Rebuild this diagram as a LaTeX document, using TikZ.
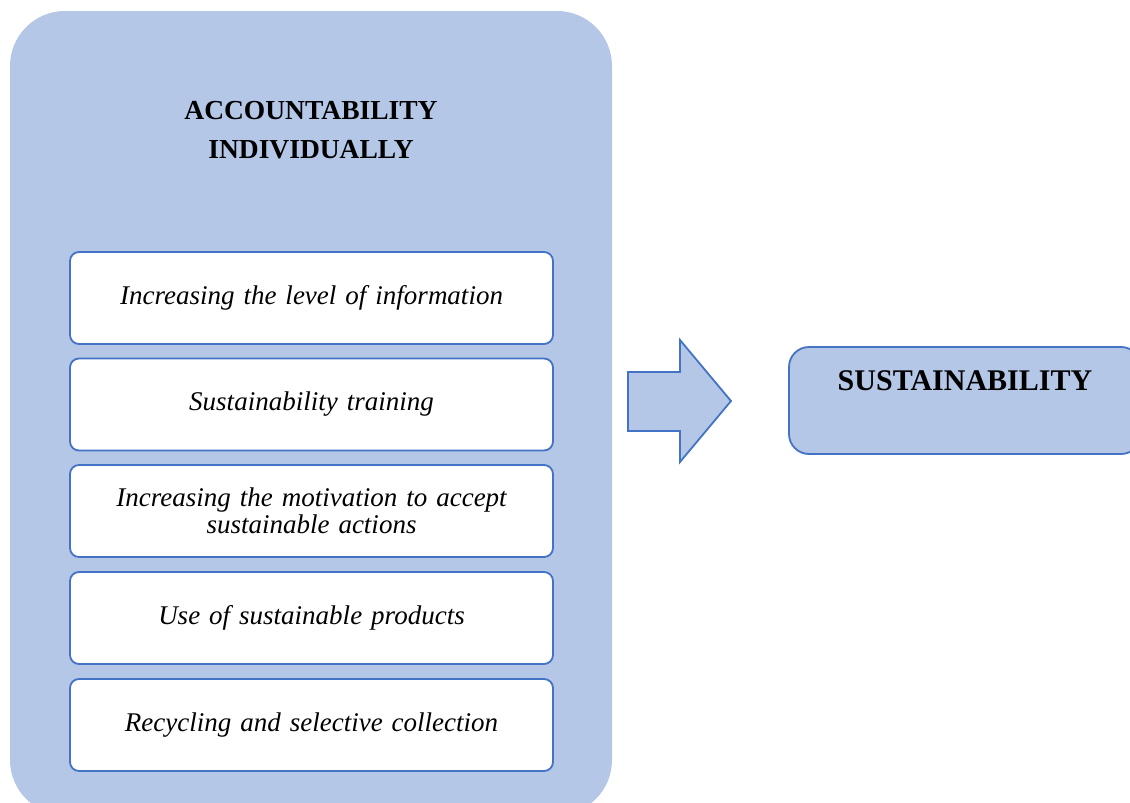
\documentclass[tikz,border=0pt]{standalone}
\usepackage{fontspec}
\setmainfont{Liberation Serif}
\definecolor{fillblue}{HTML}{B4C7E7}
\definecolor{lineblue}{HTML}{4472C4}
\begin{document}
\begin{tikzpicture}[x=1pt,y=-1pt,
  outerbox/.style={fill=fillblue, draw=none, rounded corners=55pt, minimum width=602pt, minimum height=804pt, inner sep=0pt},
  itembox/.style={fill=white, draw=lineblue, line width=1.8pt, rounded corners=9pt, minimum width=483pt, minimum height=92pt, text width=478pt, align=center, inner sep=0pt, font=\fontsize{27}{27}\selectfont\itshape},
  titletext/.style={align=center, font=\fontsize{27.5}{39}\selectfont\bfseries},
  arrowshape/.style={fill=fillblue, draw=lineblue, line width=1.8pt, line join=miter},
  susbox/.style={fill=fillblue, draw=lineblue, line width=1.8pt, rounded corners=20pt, minimum width=352pt, minimum height=107pt, inner sep=0pt, text height=20pt, text depth=41pt, font=\fontsize{30}{34}\selectfont\bfseries}
]
\useasboundingbox (0,0) rectangle (1130,803);
\clip (0,0) rectangle (1130,803);
\node[outerbox] (outer) at (311,413) {};
\node[titletext] (title) at (311,130) {ACCOUNTABILITY\\INDIVIDUALLY};
\node[itembox] (i1) at (311.5,298) {\raisebox{-2pt}{Increasing the level of information}};
\node[itembox] (i2) at (311.5,404.5) {\raisebox{-2pt}{Sustainability training}};
\node[itembox] (i3) at (311.5,511) {Increasing the motivation to accept\\sustainable actions};
\node[itembox] (i4) at (311.5,618) {\raisebox{-2pt}{Use of sustainable products}};
\node[itembox] (i5) at (311.5,725) {\raisebox{-2pt}{Recycling and selective collection}};
\draw[arrowshape] (628,372) -- (680,372) -- (680,340) -- (731,401) -- (680,462) -- (680,431) -- (628,431) -- cycle;
\node[susbox] (sus) at (965,400.5) {SUSTAINABILITY};
\end{tikzpicture}
\end{document}
